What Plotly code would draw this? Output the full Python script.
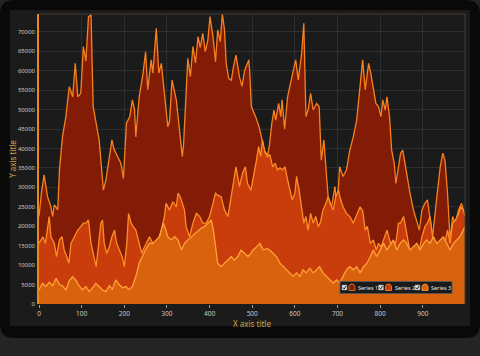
import plotly.graph_objects as go

# ---------------- data ----------------
series_names = ["Series 1", "Series 2", "Series 3"]

s1_x = [0, 6, 12, 20, 28, 32, 36, 44, 48, 55, 63, 71, 79, 85, 91, 98, 104, 110, 116, 122,
        127, 134, 141, 147, 151, 157, 165, 171, 176, 184, 192, 198, 205, 213, 219, 224, 227, 235,
        244, 250, 255, 263, 267, 275, 281, 287, 294, 302, 306, 312, 322, 330, 336, 339, 344, 349,
        355, 361, 367, 373, 378, 384, 390, 396, 401, 408, 414, 419, 425, 430, 435, 439, 445, 451,
        456, 462, 470, 476, 482, 492, 494, 498, 508, 516, 523, 528, 536, 540, 546, 551, 555, 562,
        567, 570, 576, 583, 588, 596, 602, 608, 616, 621, 626, 631, 637, 643, 651, 657, 662, 668,
        673, 678, 686, 694, 699, 705, 713, 721, 729, 737, 745, 753, 759, 765, 773, 778, 784, 790,
        796, 802, 806, 812, 816, 822, 827, 833, 837, 843, 848, 853, 859, 864, 870, 878, 886, 892,
        898, 905, 911, 917, 923, 933, 941, 947, 952, 958, 964, 970, 976, 984, 991, 999]
s1_y = [22500, 28900, 33200, 27600, 25000, 22500, 25500, 24200, 34500, 43000, 48200, 55900, 53300,
        61900, 53300, 54200, 66200, 62500, 73900, 74400, 50800, 46500, 42200, 34500, 29300, 32000,
        37900, 42200, 39800, 37900, 36200, 32300, 46500, 48200, 52500, 50000, 43000, 53300,
        59400, 64900, 55100, 62800, 59400, 70900, 59400, 61900, 54200, 45600, 47000, 57600, 52500,
        43000, 37900, 41000, 52500, 63200, 58500, 66200, 62000, 68800, 66000, 69600, 64900, 67900,
        73900, 68800, 62300, 70500, 67500, 74600, 70500, 61900, 58000, 57600, 61000, 64000, 58500,
        56000, 60000, 62800, 60000, 50800, 48200, 45600, 42200, 39600, 38300, 40500, 46500, 49900,
        47300, 51600, 48200, 52500, 45000, 53300, 55900, 60200, 62800, 57600, 64500, 72200, 48200,
        49900, 54200, 49900, 51600, 50800, 37000, 42200, 34500, 27600, 25000, 30200, 24200, 35300,
        32800, 34500, 39600, 43000, 47300, 56800, 62800, 55100, 61900, 59400, 55100, 51600, 50800,
        48200, 52500, 49900, 53300, 48200, 39600, 36200, 31000, 35300, 38800, 39600, 35300, 32800,
        28500, 24200, 20800, 19000, 24200, 25900, 26800, 22500, 17300, 27600, 35300, 38800, 37000,
        28500, 16500, 22500, 20800, 24200, 25900, 22500]

s2_x = [0, 9, 15, 20, 24, 28, 36, 41, 48, 54, 59, 65, 70, 75, 83, 91, 98, 104, 110, 116, 122,
        127, 134, 140, 145, 149, 153, 159, 165, 171, 177, 182, 188, 195, 200, 206, 210, 216, 221,
        227, 235, 241, 244, 252, 259, 267, 279, 287, 294, 298, 306, 314, 322, 326, 331, 336, 341,
        345, 353, 361, 369, 377, 384, 392, 400, 408, 414, 419, 427, 435, 443, 448, 455, 462, 470,
        477, 484, 489, 497, 505, 510, 515, 520, 524, 530, 536, 541, 548, 554, 559, 565, 571, 577,
        583, 588, 594, 600, 604, 610, 616, 621, 626, 631, 637, 643, 649, 655, 660, 666, 673, 678,
        684, 690, 696, 702, 707, 713, 721, 729, 737, 745, 753, 759, 765, 770, 777, 784, 791, 796,
        802, 808, 816, 822, 830, 838, 843, 848, 855, 861, 866, 872, 878, 886, 892, 898, 905, 911,
        917, 923, 930, 937, 945, 952, 958, 964, 970, 977, 984, 989, 995, 999]
s2_y = [15600, 17300, 15600, 19900, 22500, 17300, 15600, 12200, 16500, 17300, 13900, 12200, 10500,
        15600, 17300, 19000, 19900, 20800, 20800, 21600, 15600, 13000, 9600, 15600, 20800, 21600,
        15600, 13000, 14700, 17300, 19000, 15600, 13900, 12200, 9600, 15600, 23300, 20800, 19900,
        19000, 15600, 13000, 13900, 15600, 17300, 15600, 16500, 19000, 22500, 25900, 24200, 26300,
        25000, 28500, 27600, 25900, 24200, 19900, 17300, 20800, 23300, 22500, 20800, 20800, 22500,
        25900, 28500, 28000, 27600, 24200, 22500, 25900, 31000, 35300, 30200, 33600, 35300, 31000,
        29300, 33600, 37000, 40500, 38000, 42200, 39000, 37900, 38500, 35300, 36200, 34500, 35000,
        34500, 35300, 31900, 29300, 26800, 28500, 32800, 29300, 24200, 20800, 22500, 19000, 23300,
        20800, 22500, 19900, 21000, 24200, 25900, 27600, 25500, 24200, 27600, 29300, 27000, 25000,
        23300, 22500, 20800, 23000, 25000, 24000, 19000, 20000, 15600, 16500, 13900, 15600, 14700,
        16500, 19000, 16500, 13900, 16500, 20800, 20800, 22500, 19000, 15600, 12200, 13900, 10500,
        13900, 17300, 19900, 20800, 22500, 17300, 13900, 15600, 12200, 15600, 19000, 15600, 20800,
        21600, 23300, 25000, 24200, 22500]

s3_x = [0, 8, 16, 24, 32, 40, 48, 55, 63, 71, 79, 87, 94, 102, 110, 118, 126, 133, 141, 149,
        157, 165, 172, 180, 188, 196, 204, 211, 219, 227, 235, 243, 250, 259, 267, 275, 283, 291,
        295, 302, 310, 318, 326, 334, 341, 349, 357, 365, 373, 380, 388, 396, 404, 409, 414, 419,
        427, 435, 443, 451, 458, 466, 474, 482, 490, 497, 502, 510, 518, 526, 534, 541, 549, 557,
        565, 573, 580, 588, 596, 604, 612, 619, 627, 635, 643, 651, 658, 666, 674, 682, 690, 698,
        705, 713, 721, 729, 737, 745, 753, 761, 769, 777, 784, 792, 800, 808, 816, 823, 831, 839,
        847, 855, 862, 870, 878, 886, 894, 902, 909, 917, 925, 933, 941, 948, 956, 964, 972, 980,
        987, 995, 999]
s3_y = [3600, 5300, 4500, 5600, 4700, 6600, 5000, 4700, 3600, 6000, 7000, 6000, 4700, 3600, 4500,
        3200, 4200, 5300, 4500, 3600, 3200, 4700, 3800, 6200, 5000, 4200, 4500, 3700, 4500, 7000,
        10500, 12500, 14000, 15600, 15600, 16500, 17300, 20800, 19900, 17300, 16500, 17300, 16500,
        13900, 15600, 16500, 17300, 18000, 19000, 19500, 19900, 20800, 21600, 19000, 13900, 10500,
        9600, 10500, 11300, 12200, 11300, 12200, 13900, 13000, 12200, 13000, 13900, 14700, 15600,
        13900, 14300, 13900, 13000, 12200, 10500, 9600, 8800, 7900, 7100, 8000, 7100, 8800, 8000,
        9200, 8000, 8800, 9600, 8000, 7100, 6200, 5400, 6200, 5400, 7100, 8800, 9600, 8800, 9600,
        8000, 9600, 10500, 12200, 13900, 12200, 13900, 15600, 13900, 15000, 16500, 13900, 15600,
        16500, 15600, 13900, 14700, 15600, 13900, 15600, 16500, 15600, 17300, 15600, 16500, 17300,
        15600, 13900, 15600, 16500, 17300, 19000, 19900]

x_tick_vals = [0, 100, 200, 300, 400, 500, 600, 700, 800, 900]
y_tick_vals = [0, 5000, 10000, 15000, 20000, 25000, 30000, 35000, 40000, 45000, 50000,
               55000, 60000, 65000, 70000]

# ---------------- styling ----------------
fill_colors = ["#821c06", "#c93c0b", "#d9620f"]
line_colors = ["#f5821f", "#ff8d24", "#ffa238"]
W, H = 480, 356
L, R, T, B = 39, 15, 14, 52
PW, PH = W - L - R, H - T - B


def px(x):
    return (x - L) / PW


def py(y):
    return (H - B - y) / PH


def rrect(x0, y0, x1, y1, r):
    return (f"M {px(x0 + r)},{py(y0)} L {px(x1 - r)},{py(y0)} "
            f"Q {px(x1)},{py(y0)} {px(x1)},{py(y0 + r)} L {px(x1)},{py(y1 - r)} "
            f"Q {px(x1)},{py(y1)} {px(x1 - r)},{py(y1)} L {px(x0 + r)},{py(y1)} "
            f"Q {px(x0)},{py(y1)} {px(x0)},{py(y1 - r)} L {px(x0)},{py(y0 + r)} "
            f"Q {px(x0)},{py(y0)} {px(x0 + r)},{py(y0)} Z")


fig = go.Figure()
for name, xs, ys, fc, lc in zip(series_names, [s1_x, s2_x, s3_x], [s1_y, s2_y, s3_y],
                                fill_colors, line_colors):
    fig.add_trace(go.Scatter(x=xs, y=ys, mode="lines", name=name, fill="tozeroy",
                             fillcolor=fc, line=dict(color=lc, width=1.3),
                             showlegend=False, hoverinfo="skip"))

shapes = [
    # outer black frame
    dict(type="path", xref="paper", yref="paper", path=rrect(0, 0, 480, 338, 14),
         fillcolor="#090909", line=dict(width=0), layer="below"),
    # chart panel
    dict(type="rect", xref="paper", yref="paper", x0=px(10), x1=px(470), y0=py(326), y1=py(10),
         fillcolor="#1b1b1b", line=dict(width=0), layer="below"),
    # top / right border of plot
    dict(type="line", xref="paper", yref="paper", x0=0, x1=1, y0=1, y1=1,
         line=dict(color="#4a3a2e", width=1)),
    dict(type="line", xref="paper", yref="paper", x0=1, x1=1, y0=0, y1=1,
         line=dict(color="#4a3a2e", width=1)),
]
annotations = []

# custom legend
shapes.append(dict(type="rect", xref="paper", yref="paper", x0=px(340), x1=px(452),
                   y0=py(293.5), y1=py(281.5), fillcolor="#1a1a1a",
                   line=dict(color="#555555", width=1)))
cb_x = [342, 378.5, 415]
for i, name in enumerate(series_names):
    cx = cb_x[i]
    shapes.append(dict(type="rect", xref="paper", yref="paper", x0=px(cx), x1=px(cx + 5),
                       y0=py(290), y1=py(285), fillcolor="#e6e6e6",
                       line=dict(color="#888888", width=0.6)))
    shapes.append(dict(type="path", xref="paper", yref="paper",
                       path=f"M {px(cx + 1)},{py(287.5)} L {px(cx + 2.2)},{py(289)} L {px(cx + 4.2)},{py(285.8)}",
                       line=dict(color="#222222", width=1)))
    ix = cx + 7
    shapes.append(dict(type="path", xref="paper", yref="paper",
                       path=(f"M {px(ix)},{py(290.5)} L {px(ix)},{py(286.5)} "
                             f"Q {px(ix + 0.5)},{py(284)} {px(ix + 3)},{py(284)} "
                             f"Q {px(ix + 5.5)},{py(284)} {px(ix + 6)},{py(286.5)} "
                             f"L {px(ix + 6)},{py(290.5)} Z"),
                       fillcolor=fill_colors[i], line=dict(color=line_colors[i], width=0.8)))
    annotations.append(dict(xref="paper", yref="paper", x=px(ix + 7), y=py(287.6),
                            xanchor="left", yanchor="middle", text=name, showarrow=False,
                            font=dict(size=5.5, color="#e6e6e6", family="Noto Sans")))

fig.update_layout(
    width=W, height=H,
    margin=dict(l=L, r=R, t=T, b=B, pad=0),
    paper_bgcolor="#242424",
    plot_bgcolor="#1b1b1b",
    font=dict(family="Noto Sans", size=6, color="#c8c8c8"),
    shapes=shapes,
    annotations=annotations,
    showlegend=False,
    xaxis=dict(range=[0, 999], tickvals=x_tick_vals, tickformat="d", showgrid=True,
               gridcolor="#2e2e2e", gridwidth=1, zeroline=False, showline=False,
               ticks="outside", ticklen=3, tickcolor="#9a9a9a", automargin=False,
               tickfont=dict(size=6.5, color="#c8c8c8"),
               title=dict(text="X axis title", standoff=0,
                          font=dict(size=8, color="#d9a545"))),
    yaxis=dict(range=[0, 74600], tickvals=y_tick_vals, tickformat="d", showgrid=True,
               gridcolor="#2e2e2e", gridwidth=1, zeroline=False, showline=True,
               linecolor="#e8891c", linewidth=1.5, automargin=False,
               ticks="", ticklabelstandoff=1, tickfont=dict(size=6, color="#c8c8c8"),
               title=dict(text="Y axis title", standoff=0,
                          font=dict(size=8, color="#d9a545"))),
)

fig.write_html("out.html", config={"displayModeBar": False},
               post_script="document.body.style.margin='0';document.body.style.overflow='hidden';")
